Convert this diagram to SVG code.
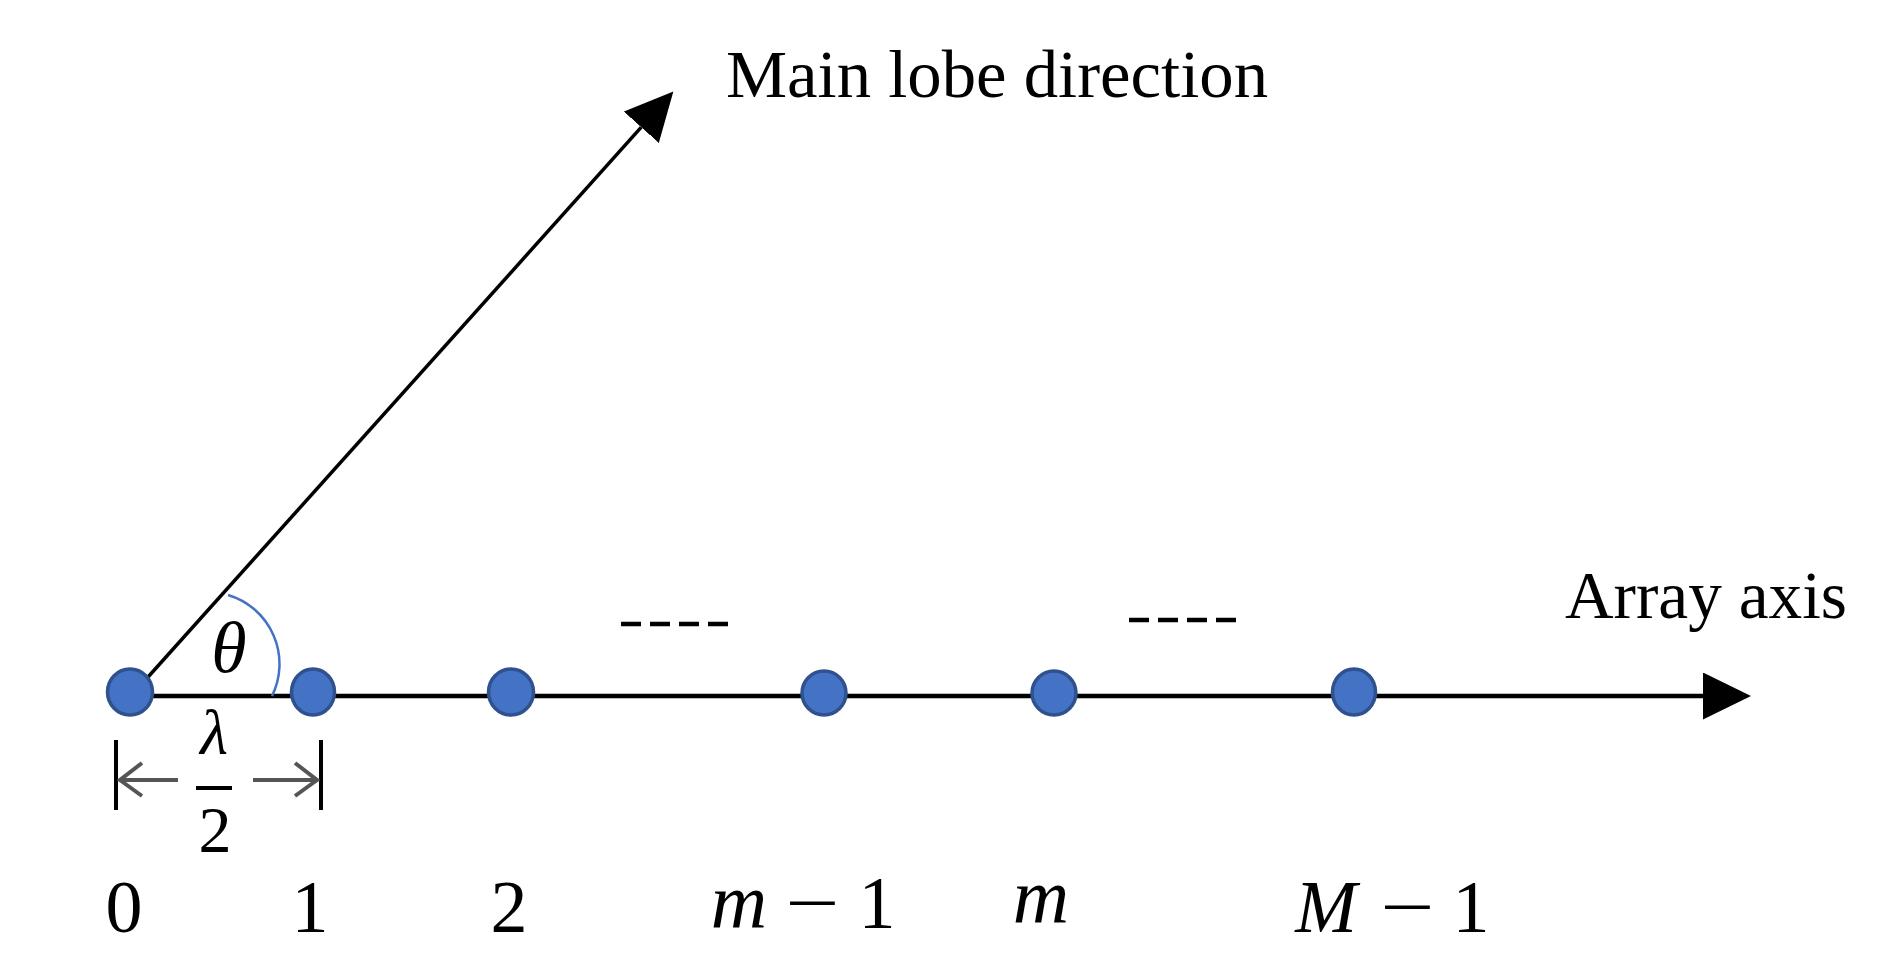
<svg xmlns="http://www.w3.org/2000/svg" width="1899" height="968" viewBox="0 0 1899 968">
<style>
.t{font-family:"Liberation Serif","Times New Roman",serif;fill:#000}
.i{font-style:italic}
.dot{fill:#4472C4;stroke:#2F528F;stroke-width:3.5}
.ln{stroke:#000;fill:none}
.dim{stroke:#555;stroke-width:4;fill:none}
.dash{stroke:#000;stroke-width:4.5;stroke-dasharray:20 9}
</style>
<defs>
<marker id="ah" markerUnits="userSpaceOnUse" orient="auto" markerWidth="50" markerHeight="48" refX="0" refY="23.5" viewBox="0 0 50 48">
<path d="M0,0 L48,23.5 L0,47 Z" fill="#000"/>
</marker>
</defs>
<rect width="1899" height="968" fill="#fff"/>
<g id="connectors">
<line id="axis" class="ln" x1="131" y1="696" x2="1703" y2="696" stroke-width="4.5" marker-end="url(#ah)"/>
<line id="mainlobe" class="ln" x1="131" y1="696" x2="641.3" y2="127.2" stroke="#1a1a1a" stroke-width="3.5" marker-end="url(#ah)"/>
<path id="theta-arc" d="M228,595 A72,72 0 0 1 272,696" fill="none" stroke="#4472C4" stroke-width="2.5"/>
<line class="ln" x1="116" y1="740" x2="116" y2="810" stroke-width="4"/>
<line class="ln" x1="321" y1="740" x2="321" y2="810" stroke-width="4"/>
<line class="dim" x1="178" y1="780" x2="119" y2="780"/>
<polyline class="dim" points="142,763 120,780 142,796"/>
<line class="dim" x1="253" y1="780" x2="318" y2="780"/>
<polyline class="dim" points="295,763 317,780 295,796"/>
<line class="dash" x1="621" y1="624" x2="729" y2="624"/>
<line class="dash" x1="1129" y1="620" x2="1237" y2="620"/>
</g>
<g id="label-main">
<text class="t" x="726" y="97" font-size="68" textLength="542" lengthAdjust="spacingAndGlyphs">Main lobe direction</text>
</g>
<g id="label-axis">
<text class="t" x="1565" y="618" font-size="68" textLength="282" lengthAdjust="spacingAndGlyphs">Array axis</text>
</g>
<g id="theta">
<text class="t i" x="229" y="672" font-size="72" text-anchor="middle">θ</text>
</g>
<g id="spacing">
<text class="t i" x="214" y="754" font-size="64" text-anchor="middle">λ</text>
<line class="ln" x1="196" y1="788" x2="232" y2="788" stroke-width="4"/>
<text class="t" x="215" y="852" font-size="66" text-anchor="middle">2</text>
</g>
<g id="node-0">
<ellipse class="dot" cx="130" cy="692" rx="22.5" ry="23"/>
<text class="t" x="124" y="932" font-size="74" text-anchor="middle">0</text>
</g>
<g id="node-1">
<ellipse class="dot" cx="313" cy="692" rx="21.5" ry="23"/>
<text class="t" x="310" y="932" font-size="74" text-anchor="middle">1</text>
</g>
<g id="node-2">
<ellipse class="dot" cx="511" cy="692" rx="22.5" ry="23"/>
<text class="t" x="509" y="932" font-size="74" text-anchor="middle">2</text>
</g>
<g id="node-m-1">
<ellipse class="dot" cx="824" cy="693" rx="22" ry="22"/>
<text class="t i" x="739" y="928" font-size="78" text-anchor="middle">m</text>
<text class="t" transform="translate(812.5,928) scale(1.3,1)" x="0" y="0" font-size="74" text-anchor="middle">−</text>
<text class="t" x="877" y="928" font-size="74" text-anchor="middle">1</text>
</g>
<g id="node-m">
<ellipse class="dot" cx="1054" cy="693" rx="22" ry="22"/>
<text class="t i" x="1041" y="923" font-size="78" text-anchor="middle">m</text>
</g>
<g id="node-M-1">
<ellipse class="dot" cx="1354" cy="692" rx="21.5" ry="23"/>
<text class="t i" x="1326" y="932" font-size="74" text-anchor="middle">M</text>
<text class="t" transform="translate(1407.5,932) scale(1.3,1)" x="0" y="0" font-size="74" text-anchor="middle">−</text>
<text class="t" x="1471" y="932" font-size="74" text-anchor="middle">1</text>
</g>
</svg>
